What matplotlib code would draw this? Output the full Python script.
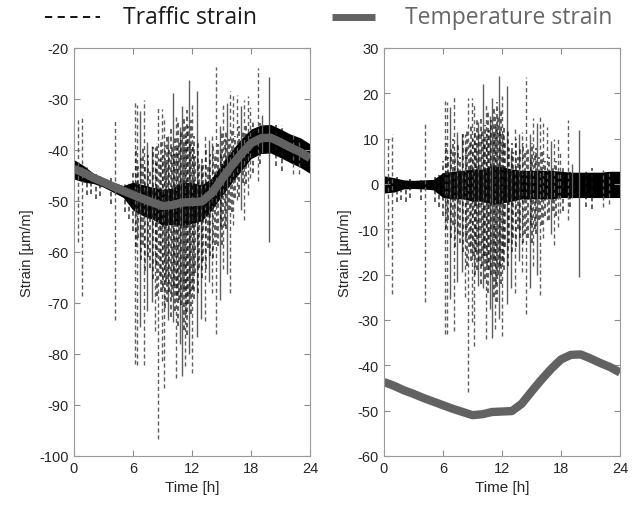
import matplotlib.pyplot as plt
import numpy as np
from matplotlib.lines import Line2D

hours = np.arange(0, 25)
temp_strain = [-43.7, -44.5, -45.5, -46.3, -47.2, -48.0, -48.8, -49.6, -50.3, -51.0,
               -50.8, -50.3, -50.2, -50.1, -48.5, -45.8, -43.2, -40.8, -38.7, -37.7,
               -37.6, -38.5, -39.5, -40.4, -41.6]

# Rauschband des Verkehrsanteils um 0
noise_hi = [1.8, 1.4, 0.9, 0.8, 0.9, 1.0, 2.5, 2.8, 3.0, 3.3, 3.3, 4.0, 3.8, 3.3, 3.0,
            3.0, 3.0, 3.0, 2.8, 2.6, 2.6, 2.6, 2.6, 2.8, 2.8]
noise_lo = [-2.0, -1.8, -1.1, -1.0, -1.1, -1.3, -3.0, -3.3, -3.3, -3.8, -3.8, -4.5, -4.2,
            -3.8, -3.3, -3.3, -3.3, -3.3, -3.0, -3.0, -3.0, -3.0, -3.0, -3.0, -3.0]

# grosse Ausschlaege (Zeit, oben, unten)
spike_time = [0.44, 0.85, 4.17, 6.2, 6.4, 6.7, 7.1, 7.4, 7.9, 8.2, 8.55, 8.9, 9.2, 9.6,
              10.1, 10.4, 10.8, 11.0, 11.3, 11.7, 12.0, 12.5, 12.9, 13.3, 13.7, 14.0,
              14.4, 14.8, 15.2, 15.6, 15.9, 16.2, 16.6, 17.0, 17.3, 17.7, 17.9, 18.7,
              19.1, 19.8, 22.3, 22.9]
spike_top = [9.9, 11, 13.2, 18.4, 18, 17, 19.4, 11.5, 11, 11, 19, 19, 17.4, 13.7,
             22, 17.4, 15, 19, 15.6, 23.9, 19.5, 21.7, 7.3, 12.5, 11, 11.5,
             23.6, 11, 14.5, 13.5, 15, 13.5, 12.5, 9.5, 10, 10, 7.3, 14,
             4.5, 12, 3, 2.5]
spike_bottom = [-14, -24.3, -26, -33, -33, -25.4, -32.5, -21.7, -19.5, -25, -45.9, -30.4,
                -35.7, -22.5, -23, -34.2, -27.6, -34, -32, -29.8, -33.5, -26.5, -23, -24,
                -17, -19.5, -28.7, -23, -18, -20, -24.5, -12, -8, -11, -13.5, -9.5, -6.5,
                -8, -3, -20.5, -5, -4.5]
spike_dashed = [1, 1, 1, 1, 1, 0, 1, 0, 0, 1, 1, 1, 1, 0, 0, 1, 0, 0, 1, 0, 1, 0, 0, 1,
                0, 1, 1, 0, 1, 0, 1, 1, 1, 0, 1, 1, 1, 1, 0, 0, 1, 1]

# kleinere, dichte Ausschlaege
small_time = [1.3, 1.7, 2.2, 2.6, 3.8, 5.2, 5.6,
              6.05, 6.3, 6.55, 6.85, 7.0, 7.25, 7.55, 7.7, 8.05, 8.3, 8.4, 8.7, 8.8, 9.05,
              9.3, 9.4, 9.5, 9.7, 9.85, 9.95, 10.2, 10.3, 10.5, 10.6, 10.7, 10.9, 11.15,
              11.2, 11.4, 11.5, 11.6, 11.8, 11.9, 12.1, 12.2, 12.35, 12.6, 12.7, 13.0,
              13.15, 13.45, 13.6, 13.85, 14.15, 14.3, 14.6, 14.9, 15.05, 15.35, 15.5,
              15.75, 16.05, 16.35, 16.8, 17.15, 17.5, 18.2, 18.9, 20.5, 21.2]
small_top = [1.5, 1, 1, 1, 1.5, 1.5, 2,
             5, 9, 6, 8, 10, 7, 9, 6, 11, 8, 12, 9, 13, 10, 12, 9, 14, 11, 15, 12,
             10, 13, 11, 16, 12, 14, 11, 17, 13, 18, 15, 12, 16, 11, 13, 9, 12, 8, 9, 7,
             10, 6, 8, 9, 7, 8, 6, 9, 7, 8, 6, 7, 5, 6, 4, 5, 4, 3, 3, 3.5]
small_bottom = [-4, -3.5, -4, -3, -3.5, -4, -5,
                -7, -10, -8, -12, -9, -14, -11, -13, -15, -12, -18, -14, -17, -16, -20,
                -15, -19, -17, -22, -18, -16, -21, -18, -24, -19, -20, -17, -25, -22, -26,
                -20, -18, -22, -17, -19, -14, -18, -13, -15, -12, -14, -10, -12, -13, -11,
                -12, -9, -13, -10, -11, -8, -9, -7, -8, -6, -7, -6, -5, -5, -5.5]

plt.rcParams['font.family'] = ['Liberation Sans', 'DejaVu Sans']
plt.rcParams['axes.unicode_minus'] = False
fig = plt.figure(figsize=(6.35, 5.1), dpi=100)

ax_l = fig.add_axes([0.1165, 0.104, 0.3717, 0.8])
ax_r = fig.add_axes([0.6047, 0.104, 0.3717, 0.8])

dash = (0, (3, 2))
spike_time_a = np.array(spike_time)
small_time_a = np.array(small_time)
ls = [dash if d else '-' for d in spike_dashed]

for ax, offset_curve in ((ax_l, True), (ax_r, False)):
    if offset_curve:
        base = np.array(temp_strain)
        base_sp = np.interp(spike_time_a, hours, temp_strain)
        base_sm = np.interp(small_time_a, hours, temp_strain)
    else:
        base = np.zeros(len(hours))
        base_sp = np.zeros(len(spike_time))
        base_sm = np.zeros(len(small_time))
    ax.vlines(spike_time_a, base_sp + np.array(spike_bottom), base_sp + np.array(spike_top),
              colors='#5e5e5e', linestyles=ls, linewidth=1.0)
    ax.vlines(small_time_a, base_sm + np.array(small_bottom), base_sm + np.array(small_top),
              colors='#111111', linestyles=dash, linewidth=1.1, alpha=0.85)
    ax.fill_between(hours, base + np.array(noise_lo), base + np.array(noise_hi),
                    color='black', lw=0)
    ax.plot(hours, temp_strain, color='#626262', lw=6, solid_capstyle='butt')
    ax.set_xlim(0, 24)
    ax.set_xticks([0, 6, 12, 18, 24])
    ax.set_xlabel('Time [h]', fontsize=11, color='#262626')
    ax.set_ylabel('Strain [µm/m]', fontsize=10.5, color='#262626')
    ax.tick_params(direction='in', top=True, right=True, length=4, color='#8c8c8c',
                   labelsize=10.5, labelcolor='#262626')
    for s in ax.spines.values():
        s.set_color('#9a9a9a')

ax_l.set_ylim(-100, -20)
ax_l.set_yticks(np.arange(-100, -19, 10))
ax_r.set_ylim(-60, 30)
ax_r.set_yticks(np.arange(-60, 31, 10))

# Legende oben
yl = 1 - 18 / 510
fig.add_artist(Line2D([45 / 635, 100 / 635], [yl, yl], color='black',
                      lw=1.3, linestyle=(0, (4, 3))))
fig.text(123 / 635, yl, 'Traffic strain', fontsize=16.5, family='Open Sans',
         color='#1a1a1a', va='center')
fig.add_artist(Line2D([332 / 635, 375 / 635], [yl, yl], color='#626262',
                      lw=5, solid_capstyle='butt'))
fig.text(405 / 635, yl, 'Temperature strain', fontsize=16.5, family='Open Sans',
         color='#666666', va='center')

fig.savefig('out.png', dpi=100)
